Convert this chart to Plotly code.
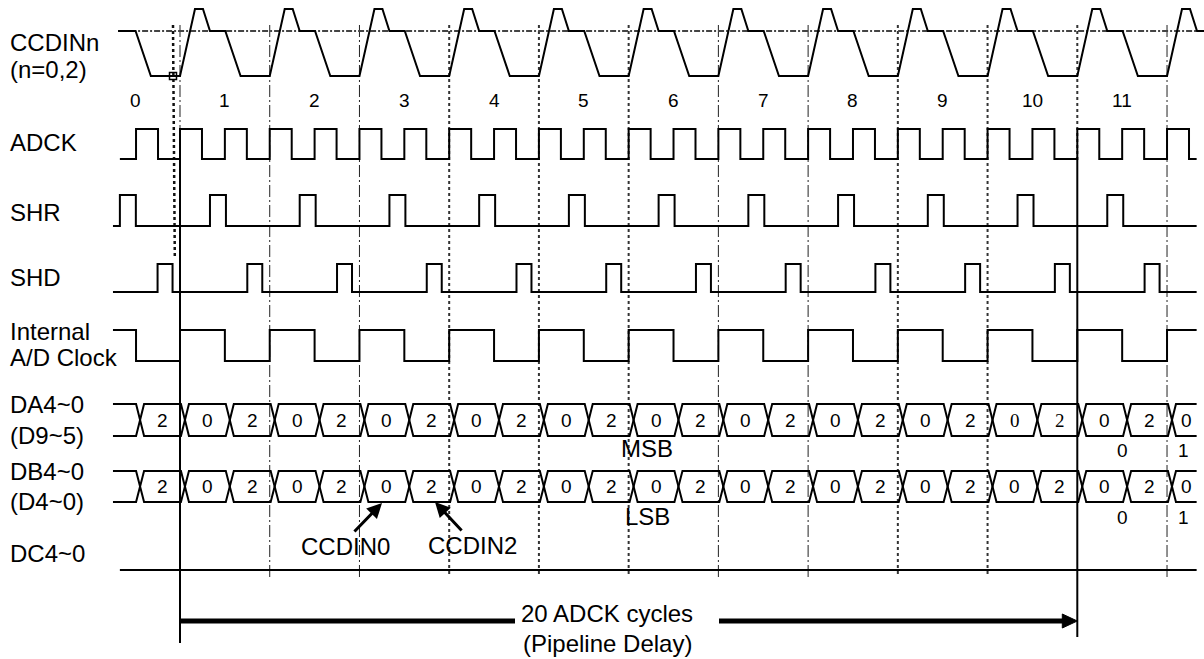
import plotly.graph_objects as go

# ---------------- data (time in CCD pixel cycles; t=0 = first solid reference edge) ----------------
label_text = ["CCDINn", "(n=0,2)", "ADCK", "SHR", "SHD", "Internal", "A/D Clock",
              "DA4~0", "(D9~5)", "DB4~0", "(D4~0)", "DC4~0"]
cycle_numbers = ["0", "1", "2", "3", "4", "5", "6", "7", "8", "9", "10", "11"]
cycle_label_t = [-0.5, 0.5, 1.5, 2.5, 3.5, 4.5, 5.5, 6.5, 7.5, 8.5, 9.5, 10.5]
boundary_t = [1, 2, 3, 4, 5, 6, 7, 8, 9, 11]

# CCDIN waveform shape inside one cycle (phase, normalised level: 0=signal low, 1=reset ref, 1.49=peak)
ccdin_phase = [0.0, 0.167, 0.256, 0.334, 0.505, 0.675]
ccdin_level = [0.0, 1.49, 1.49, 1.0, 1.0, 0.0]
ccdin_cycles = [0, 1, 2, 3, 4, 5, 6, 7, 8, 9, 10, 11]
ccdin_lead = [(-0.69, 1.0), (-0.495, 1.0), (-0.325, 0.0)]

adck_rise = [-0.49, 0.0, 0.5, 1.0, 1.5, 2.0, 2.5, 3.0, 3.5, 4.0, 4.5, 5.0, 5.5, 6.0,
             6.5, 7.0, 7.5, 8.0, 8.5, 9.0, 9.5, 10.0, 10.5, 11.0]
adck_width = 0.245
shr_rise = [-0.67, 0.334, 1.334, 2.334, 3.334, 4.334, 5.334, 6.334, 7.334, 8.334, 9.334, 10.334]
shr_width = 0.178
shd_rise = [-0.25, 0.75, 1.75, 2.75, 3.75, 4.75, 5.75, 6.75, 7.75, 8.75, 9.75, 10.75]
shd_width = 0.167
internal_toggles = [-0.49, 0.0, 0.5, 1.0, 1.5, 2.0, 2.5, 3.0, 3.5, 4.0, 4.5, 5.0, 5.5,
                    6.0, 6.5, 7.0, 7.5, 8.0, 8.5, 9.0, 9.5, 10.0, 10.5, 11.0]

bus_cross = [-0.445, 0.055, 0.555, 1.055, 1.555, 2.055, 2.555, 3.055, 3.555, 4.055, 4.555, 5.055,
             5.555, 6.055, 6.555, 7.055, 7.555, 8.055, 8.555, 9.055, 9.555, 10.055, 10.555, 11.055]
da_values = ["2", "0", "2", "0", "2", "0", "2", "0", "2", "0", "2", "0",
             "2", "0", "2", "0", "2", "0", "2", "0", "2", "0", "2", "0"]
db_values = ["2", "0", "2", "0", "2", "0", "2", "0", "2", "0", "2", "0",
             "2", "0", "2", "0", "2", "0", "2", "0", "2", "0", "2", "0"]
da_after_labels = ["0", "1"]
db_after_labels = ["0", "1"]
sample_mark_t = -0.078
pipeline_start_t = 0
pipeline_end_t = 10

# ---------------- layout / style ----------------
W, H = 1204, 659
PX = 89.73          # pixels per cycle
X0 = 180.0          # pixel of t = 0
def tpx(px):        # pixel offset -> time units
    return px / PX

T_START = -0.747
T_END = 11.33
FONT = "Liberation Sans, Arial, sans-serif"
BLACK = "#000000"
LW = 2

rows = {
    "ccdin": (76, 31),
    "adck": (159, 129),
    "shr": (226, 195),
    "shd": (292, 264),
    "int": (361, 330),
}
DA_TOP, DA_BOT = 404, 436
DB_TOP, DB_BOT = 471, 502
DC_Y = 570
label_y = [42, 69, 142, 212, 277, 331, 357, 404, 435, 471, 501, 553]

fig = go.Figure()


def add_line(xs, ys, width=LW, dash=None, color=BLACK, shape="linear"):
    fig.add_trace(go.Scatter(x=xs, y=ys, mode="lines", hoverinfo="skip", showlegend=False,
                             line=dict(color=color, width=width, dash=dash, shape=shape)))


def lvl(row, v):
    lo, hi = rows[row]
    return lo + v * (hi - lo)


def square(row, t0, v0, toggles, t1):
    xs, ys = [t0], [v0]
    v = v0
    for t in toggles:
        v = 1 - v
        xs.append(t)
        ys.append(v)
    xs.append(t1)
    ys.append(v)
    add_line(xs, [lvl(row, y) for y in ys], shape="hv")


def pulses(rise, width):
    out = []
    for r in rise:
        out += [r, r + width]
    return out

# --- vertical guide lines
thick_dotted = {3, 4, 5, 8, 9}
for t in boundary_t:
    if t in thick_dotted:
        add_line([t, t], [25, 577], width=2, dash="dot", color="#333333")
    else:
        add_line([t, t], [25, 577], width=1, dash="12px,3px,2px,3px", color="#222222")
# t=0 and t=10 : dashed top, solid bottom
add_line([pipeline_start_t, pipeline_start_t], [25, 150], width=1, dash="12px,3px,2px,3px", color="#222222")
add_line([pipeline_start_t, pipeline_start_t], [150, 643], width=2)
add_line([pipeline_end_t, pipeline_end_t], [25, 157], width=2, dash="dot", color="#333333")
add_line([pipeline_end_t, pipeline_end_t], [157, 637], width=2)
# sampling mark line
add_line([sample_mark_t, sample_mark_t + 0.02], [25, 257], width=2.5, dash="dot", color="#111111")

# --- CCDIN reference line
add_line([-0.69, T_END + 1], [rows["ccdin"][1]] * 2, width=2, dash="6px,2px,2px,2px", color="#444444")

# --- CCDIN waveform
cx = [p[0] for p in ccdin_lead]
cy = [p[1] for p in ccdin_lead]
for k in ccdin_cycles:
    for ph, lv in zip(ccdin_phase, ccdin_level):
        cx.append(k + ph)
        cy.append(lv)
add_line(cx, [lvl("ccdin", v) for v in cy])
fig.add_trace(go.Scatter(x=[sample_mark_t], y=[rows["ccdin"][0]], mode="markers", hoverinfo="skip",
                         showlegend=False,
                         marker=dict(symbol="square-open", size=7, color=BLACK, line=dict(width=1.5))))

# --- clocks
square("adck", -0.67, 0, pulses(adck_rise, adck_width), T_END)
square("shr", T_START, 0, pulses(shr_rise, shr_width), T_END)
square("shd", T_START, 0, pulses(shd_rise, shd_width), T_END)
square("int", T_START, 1, internal_toggles, T_END)

# --- buses
HW = tpx(4)


def bus(top, bot, values, serif_idx=()):
    for startlvl in (top, bot):
        xs, ys = [T_START], [startlvl]
        cur = startlvl
        for c in bus_cross:
            xs.append(c - HW)
            ys.append(cur)
            cur = bot if cur == top else top
            xs.append(c + HW)
            ys.append(cur)
        xs.append(T_END)
        ys.append(cur)
        add_line(xs, ys)
    mid = (top + bot) / 2
    for i, v in enumerate(values):
        a = bus_cross[i] + HW
        b = bus_cross[i + 1] - HW if i + 1 < len(bus_cross) else T_END
        fam = "Liberation Serif, Times New Roman, serif" if i in serif_idx else FONT
        fig.add_annotation(x=(a + b) / 2, y=mid, text=v, showarrow=False, xanchor="center",
                           yanchor="middle", font=dict(family=fam, size=19, color=BLACK))


bus(DA_TOP, DA_BOT, da_values, serif_idx=(19, 20))
bus(DB_TOP, DB_BOT, db_values)
add_line([-0.67, T_END], [DC_Y, DC_Y])

# --- pipeline arrow
AY = 621
add_line([pipeline_start_t, tpx(515 - X0)], [AY, AY], width=5)
add_line([tpx(719 - X0), pipeline_end_t - tpx(12)], [AY, AY], width=5)
fig.add_trace(go.Scatter(x=[pipeline_end_t, pipeline_end_t - tpx(15), pipeline_end_t - tpx(15), pipeline_end_t],
                         y=[AY, AY - 7, AY + 7, AY], mode="lines", fill="toself", fillcolor=BLACK,
                         line=dict(color=BLACK, width=1), hoverinfo="skip", showlegend=False))

# --- texts
for txt, y in zip(label_text, label_y):
    fig.add_annotation(x=8 / W, xref="paper", y=y, text=txt, showarrow=False, xanchor="left",
                       yanchor="middle", font=dict(family=FONT, size=24, color=BLACK))
for txt, t in zip(cycle_numbers, cycle_label_t):
    fig.add_annotation(x=t, y=100, text=txt, showarrow=False, xanchor="center", yanchor="middle",
                       font=dict(family=FONT, size=19, color=BLACK))

small_t = [10.5, tpx(1183 - X0)]
for txt, t in zip(da_after_labels, small_t):
    fig.add_annotation(x=t, y=450, text=txt, showarrow=False, font=dict(family=FONT, size=19, color=BLACK))
for txt, t in zip(db_after_labels, small_t):
    fig.add_annotation(x=t, y=517, text=txt, showarrow=False, font=dict(family=FONT, size=19, color=BLACK))

msb_t = tpx(647 - X0)
fig.add_annotation(x=msb_t, y=448, text="MSB", showarrow=False, font=dict(family=FONT, size=24, color=BLACK))
fig.add_annotation(x=msb_t, y=516, text="LSB", showarrow=False, font=dict(family=FONT, size=24, color=BLACK))

fig.add_annotation(x=tpx(345 - X0), y=546, text="CCDIN0", showarrow=False, font=dict(family=FONT, size=24, color=BLACK))
fig.add_annotation(x=tpx(472 - X0), y=545, text="CCDIN2", showarrow=False, font=dict(family=FONT, size=24, color=BLACK))
fig.add_annotation(x=tpx(382 - X0), y=503, ax=tpx(353 - X0), ay=533, axref="x", ayref="y", text="",
                   showarrow=True, arrowhead=2, arrowsize=1, arrowwidth=3, arrowcolor=BLACK, standoff=0)
fig.add_annotation(x=tpx(435 - X0), y=502, ax=tpx(463 - X0), ay=532, axref="x", ayref="y", text="",
                   showarrow=True, arrowhead=2, arrowsize=1, arrowwidth=3, arrowcolor=BLACK, standoff=0)

pipe_t = tpx(607 - X0)
fig.add_annotation(x=pipe_t, y=613, text="20 ADCK cycles", showarrow=False, font=dict(family=FONT, size=24, color=BLACK))
fig.add_annotation(x=pipe_t, y=643, text="(Pipeline Delay)", showarrow=False, font=dict(family=FONT, size=24, color=BLACK))

fig.update_layout(
    width=W, height=H, autosize=False,
    margin=dict(l=0, r=0, t=0, b=0, pad=0),
    paper_bgcolor="white", plot_bgcolor="white",
    xaxis=dict(range=[-X0 / PX, (W - X0) / PX], visible=False, fixedrange=True),
    yaxis=dict(range=[H, 0], visible=False, fixedrange=True),
    showlegend=False,
)

fig.write_html("out.html", config={"displayModeBar": False},
               post_script="document.body.style.margin='0';document.body.style.overflow='hidden';")
